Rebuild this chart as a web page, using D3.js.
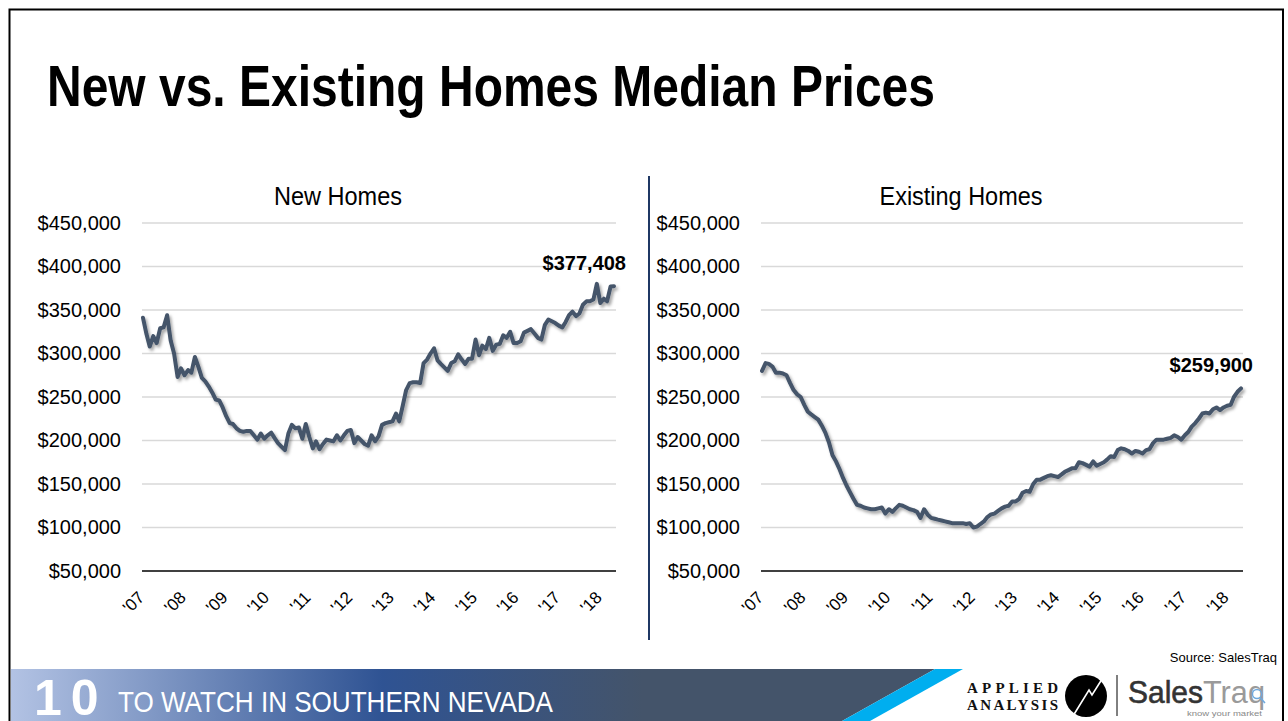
<!DOCTYPE html>
<html><head><meta charset="utf-8">
<script src="https://cdn.jsdelivr.net/npm/d3@7/dist/d3.min.js"></script>
<style>html,body{margin:0;padding:0;background:#fff;overflow:hidden}svg{display:block}</style>
</head><body>
<svg id="c" width="1288" height="721"></svg>
<script>
// ---------- DATA ----------
const yearLabels = ["'07","'08","'09","'10","'11","'12","'13","'14","'15","'16","'17","'18"];
const yTickValues = [50000,100000,150000,200000,250000,300000,350000,400000,450000];
const months = d3.timeMonth.range(new Date(2007,0,1), new Date(2018,5,1)); // Jan 2007 – May 2018
const newHomes = [
341000,322000,308000,320000,312000,329000,330000,344000,315000,300000,
273000,283000,275000,281000,278000,296000,285000,272000,268000,262000,
255000,247000,246000,238000,228000,220000,219000,214000,211000,210000,
211000,211000,206000,201000,208000,202000,206000,209000,203000,197000,
193000,189000,208000,218000,214000,215000,202000,219000,204000,191000,
199000,190000,196000,201000,200000,199000,206000,200000,206000,211000,
212000,197000,204000,200000,196000,194000,206000,199000,205000,218000,
220000,221000,222000,231000,222000,240000,258000,266000,267000,267000,
266000,289000,293000,300000,306000,292000,288000,284000,280000,289000,
291000,299000,293000,288000,294000,294000,316000,298000,309000,305000,
318000,303000,310000,311000,321000,318000,325000,312000,312000,314000,
324000,326000,328000,323000,318000,316000,333000,339000,337000,335000,
332000,330000,336000,344000,348000,343000,346000,356000,360000,360000,
362000,380000,358000,363000,360000,377000,377408];
const existingHomes = [
280000,289000,288000,285000,278000,278000,277000,275000,266000,258000,
253000,250000,241000,233000,230000,227000,224000,217000,209000,198000,
183000,176000,167000,157000,148000,140000,133000,126000,125000,123000,
122000,121000,121000,122000,123000,116000,121000,118000,122000,126000,
125000,123000,121000,120000,118000,111000,121000,115000,111000,110000,
109000,108000,107000,106000,105000,105000,105000,105000,104000,105000,
100000,101000,104000,107000,112000,115000,116000,119000,122000,124000,
125000,130000,130000,133000,140000,142000,141000,150000,155000,155000,
157000,159000,160000,159000,158000,161000,164000,166000,168000,168000,
175000,174000,172000,170000,176000,171000,173000,175000,178000,182000,
181000,189000,191000,190000,188000,185000,188000,187000,185000,189000,
190000,197000,201000,201000,201000,202000,203000,206000,204000,201000,
206000,210000,216000,220000,225000,231000,232000,231000,236000,238000,
235000,238000,240000,241000,250000,256000,259900];

// ---------- DRAW ----------
const svg = d3.select("#c");
const SANS = "'Liberation Sans', Arial, Helvetica, sans-serif";
const NARROW = "'Liberation Sans Narrow', 'Arial Narrow', 'Liberation Sans', Arial, sans-serif";
const LINE = "#44546A";

const defs = svg.append("defs");
const f = defs.append("filter").attr("id","sh").attr("x","-10%").attr("y","-10%").attr("width","120%").attr("height","120%");
f.append("feDropShadow").attr("dx",2).attr("dy",2.5).attr("stdDeviation",1.6)
 .attr("flood-color","#000").attr("flood-opacity",0.35);
const gr = defs.append("linearGradient").attr("id","fg")
  .attr("gradientUnits","userSpaceOnUse").attr("x1",10).attr("x2",940).attr("y1",0).attr("y2",0);
gr.append("stop").attr("offset","0").attr("stop-color","#b3c3e4");
gr.append("stop").attr("offset","0.40").attr("stop-color","#2f5393");
gr.append("stop").attr("offset","0.68").attr("stop-color","#44546a");
gr.append("stop").attr("offset","1").attr("stop-color","#44546a");

// frame
svg.append("rect").attr("x",9.5).attr("y",9.5).attr("width",1273.5).attr("height",720)
  .attr("fill","none").attr("stroke","#000").attr("stroke-width",2);

// title
svg.append("text").attr("x",47).attr("y",106)
  .attr("font-family",NARROW).attr("font-weight","bold").attr("font-size",58)
  .attr("textLength",888).attr("lengthAdjust","spacingAndGlyphs")
  .attr("fill","#000").text("New vs. Existing Homes Median Prices");

// divider
svg.append("line").attr("x1",649).attr("x2",649).attr("y1",176).attr("y2",640)
  .attr("stroke","#1f3864").attr("stroke-width",2);

const y = d3.scaleLinear().domain([50000,450000]).range([571,223]);
const fmt = d3.format("$,");

// measure glyph advances for rotated labels
const meas = svg.append("text").attr("font-family",SANS).attr("font-size",17).attr("x",-500).attr("y",-500);
function advances(s){
  meas.text(s);
  const node = meas.node();
  const a = [];
  for (let i=0;i<s.length;i++) a.push(node.getSubStringLength(i,1));
  return a;
}

function panel(cfg){
  const g = svg.append("g");
  const x = d3.scaleTime().domain([months[0], months[months.length-1]])
    .range([cfg.plotL+1, cfg.plotR-2]);
  g.selectAll("line.grid").data(yTickValues.filter(v=>v>50000)).join("line")
    .attr("class","grid")
    .attr("x1",cfg.plotL).attr("x2",cfg.plotR)
    .attr("y1",d=>y(d)).attr("y2",d=>y(d))
    .attr("stroke","#d9d9d9").attr("stroke-width",1.3);
  const ya = g.append("g").attr("transform",`translate(${cfg.labelEnd},0)`)
    .call(d3.axisLeft(y).tickValues(yTickValues).tickFormat(fmt).tickSize(0).tickPadding(0));
  ya.select(".domain").remove();
  ya.selectAll("text").attr("font-family",SANS).attr("font-size",20).attr("fill","#000");
  g.append("line").attr("x1",cfg.plotL).attr("x2",cfg.plotR).attr("y1",y(50000)).attr("y2",y(50000))
    .attr("stroke","#000").attr("stroke-width",1.3);
  // x labels rotated -45: each glyph placed along the diagonal and turned
  const years = d3.timeYear.range(new Date(2007,0,1), new Date(2019,0,1));
  const c = Math.SQRT1_2;
  years.forEach((d,i)=>{
    const s = yearLabels[i];
    const adv = advances(s);
    const w = d3.sum(adv);
    const ex = x(d)+2.5, ey = y(50000)+27.5;
    const sx = ex - w*c, sy = ey + w*c;
    let acc = 0; const xs=[], ys=[];
    adv.forEach(a=>{ xs.push((sx+acc*c).toFixed(2)); ys.push((sy-acc*c).toFixed(2)); acc+=a; });
    g.append("text").attr("x",xs.join(" ")).attr("y",ys.join(" "))
      .attr("rotate",adv.map(()=> -45).join(" "))
      .attr("font-family",SANS).attr("font-size",17).attr("fill","#000").text(s);
  });
  g.append("text").attr("x",cfg.titleX).attr("y",205).attr("text-anchor","middle")
    .attr("font-family",NARROW).attr("font-size",26).attr("fill","#000")
    .attr("textLength",cfg.titleW).attr("lengthAdjust","spacingAndGlyphs")
    .text(cfg.title);
  const line = d3.line().x((d,i)=>x(months[i])).y(d=>y(d));
  g.append("path").datum(cfg.data).attr("d",line).attr("fill","none")
    .attr("stroke",LINE).attr("stroke-width",4).attr("stroke-linejoin","round").attr("stroke-linecap","round")
    .attr("filter","url(#sh)");
  const last = cfg.data[cfg.data.length-1];
  g.append("text").attr("x",x(months[months.length-1])+12).attr("y",y(last)-16)
    .attr("text-anchor","end").attr("font-family",SANS).attr("font-weight","bold").attr("font-size",20)
    .attr("fill","#000").text(fmt(last));
}

panel({plotL:142, plotR:616, labelEnd:121, title:"New Homes", titleX:338, titleW:128, data:newHomes});
panel({plotL:761, plotR:1243, labelEnd:740, title:"Existing Homes", titleX:961, titleW:163, data:existingHomes});
meas.remove();

// source
svg.append("text").attr("x",1277).attr("y",662).attr("text-anchor","end")
  .attr("font-family",NARROW).attr("font-size",13).attr("fill","#000").text("Source: SalesTraq");

// footer band
svg.append("path").attr("d","M11,669 L935,669 L842,721 L11,721 Z").attr("fill","url(#fg)");
svg.append("path").attr("d","M935,669 L963,669 L870,721 L842,721 Z").attr("fill","#00aeef");
svg.append("text").attr("x",34).attr("y",715)
  .attr("font-family",SANS).attr("font-weight","bold").attr("font-size",50).attr("fill","#fff")
  .attr("letter-spacing",9).text("10");
svg.append("text").attr("x",118).attr("y",712)
  .attr("font-family",NARROW).attr("font-size",30).attr("fill","#fff")
  .attr("textLength",435).attr("lengthAdjust","spacingAndGlyphs").text("TO WATCH IN SOUTHERN NEVADA");

// logos
const SERIF = "'Liberation Serif','DejaVu Serif',serif";
svg.append("text").attr("x",967).attr("y",693).attr("font-family",SERIF).attr("font-weight","bold")
  .attr("font-size",15).attr("textLength",91).attr("lengthAdjust","spacing").attr("fill","#111").text("APPLIED");
svg.append("text").attr("x",967).attr("y",710).attr("font-family",SERIF).attr("font-weight","bold")
  .attr("font-size",15).attr("textLength",91).attr("lengthAdjust","spacing").attr("fill","#111").text("ANALYSIS");
svg.append("circle").attr("cx",1086).attr("cy",696).attr("r",21).attr("fill","#000");
svg.append("path").attr("d","M1073,716 L1089,690 L1092,695 L1104,676").attr("fill","none")
  .attr("stroke","#fff").attr("stroke-width",1.6);
svg.append("line").attr("x1",1117).attr("x2",1117).attr("y1",675).attr("y2",716).attr("stroke","#000").attr("stroke-width",1);
svg.append("text").attr("x",1128).attr("y",703).attr("font-family",SANS).attr("font-size",31)
  .attr("textLength",75).attr("lengthAdjust","spacingAndGlyphs").attr("fill","#333").attr("stroke","#333").attr("stroke-width",0.6).text("Sales");
svg.append("text").attr("x",1203).attr("y",703).attr("font-family",SANS).attr("font-size",31)
  .attr("textLength",62).attr("lengthAdjust","spacingAndGlyphs").attr("fill","#9a9a9a").text("Traq");
svg.append("circle").attr("cx",1257).attr("cy",694).attr("r",4.5).attr("fill","none").attr("stroke","#6fa8dc").attr("stroke-width",1.4);
svg.append("line").attr("x1",1260).attr("y1",697.5).attr("x2",1265).attr("y2",703).attr("stroke","#6fa8dc").attr("stroke-width",1.6);
svg.append("text").attr("x",1187).attr("y",716).attr("font-family",SANS).attr("font-size",8)
  .attr("textLength",75).attr("lengthAdjust","spacingAndGlyphs").attr("fill","#888").text("know your market");
</script>
</body></html>
